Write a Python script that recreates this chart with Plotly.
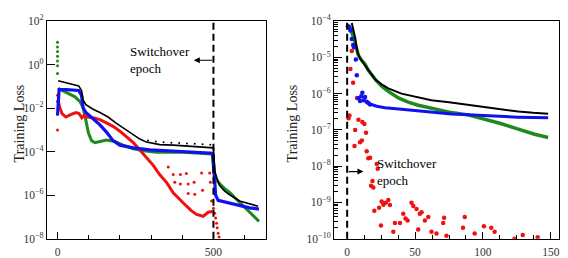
import plotly.graph_objects as go

# ---------------- Left panel (full training, epochs) ----------------
black_l_x = [2, 29, 68, 77, 82, 91, 114, 136, 162, 189, 216, 243, 264, 285, 307, 328, 371, 413, 456, 497,
             500, 503, 505, 512, 520, 536, 552, 584, 616, 643]
black_l_y = [1.8e-1, 1.45e-1, 1.05e-1, 6.5e-2, 2.4e-2, 1.45e-2, 8.9e-3, 6.3e-3, 3.9e-3, 2.0e-3, 1.1e-3, 6.3e-4,
             3.8e-4, 2.75e-4, 2.3e-4, 2.1e-4, 2.0e-4, 1.85e-4, 1.75e-4, 1.6e-4,
             1.5e-4, 3.0e-5, 1.2e-5, 5.4e-6, 2.8e-6, 1.55e-6, 1.05e-6, 5.4e-7, 3.9e-7, 3.1e-7]
black_l_spike_x = [290, 315, 340, 365, 390, 415, 440, 465, 490]
black_l_spike_y = [3.3e-4, 2.9e-4, 2.7e-4, 2.6e-4, 2.5e-4, 2.4e-4, 2.3e-4, 2.2e-4, 2.1e-4]

blue_l_x = [0, 1, 5, 29, 68, 77, 82, 91, 114, 136, 157, 178, 200, 243, 296, 350, 403, 456, 497,
            501, 504, 507, 515, 525, 552, 584, 616, 646]
blue_l_y = [4.6e-3, 1.0e-2, 7.1e-2, 7.1e-2, 6.5e-2, 3.9e-2, 1.05e-2, 6.3e-3, 3.3e-3, 1.7e-3, 7.9e-4, 3.2e-4,
            2.0e-4, 1.5e-4, 1.2e-4, 1.1e-4, 1.0e-4, 9.3e-5, 8.5e-5,
            2.0e-5, 3.3e-6, 1.0e-6, 5.8e-7, 5.4e-7, 4.2e-7, 3.3e-7, 2.6e-7, 2.3e-7]

green_l_start_x = [0, 0, 0, 0, 0, 0, 0]
green_l_start_y = [10.7, 6.5, 4.0, 2.4, 1.48, 0.89, 0.39]
green_l_x = [2, 29, 56, 72, 82, 91, 99, 109, 120, 136, 157, 184, 210, 243, 275, 317, 403, 497,
             501, 509, 520, 536, 552, 568, 584, 606, 627, 646]
green_l_y = [8.1e-2, 5.4e-2, 3.3e-2, 2.0e-2, 1.05e-2, 2.75e-3, 7.4e-4, 3.2e-4, 2.6e-4, 2.95e-4, 3.4e-4,
             2.95e-4, 2.0e-4, 1.35e-4, 1.1e-4, 9.5e-5, 9.3e-5, 7.9e-5,
             1.05e-5, 5.4e-6, 3.3e-6, 2.0e-6, 1.35e-6, 7.9e-7, 4.6e-7, 2.3e-7, 1.15e-7, 6.3e-8]

red_l_start_x = [0, 0, 0, 0]
red_l_start_y = [3.9e-2, 2.0e-2, 5.4e-3, 1.0e-3]
red_l_x = [3, 7, 15, 27, 42, 59, 69, 78, 85, 95, 114, 136, 157, 178, 200, 221, 243, 264, 285, 307, 328,
           350, 371, 392, 413, 429, 446, 467, 483, 497]
red_l_y = [2.0e-2, 1.05e-2, 5.4e-3, 3.9e-3, 5.0e-3, 6.3e-3, 5.7e-3, 3.6e-3, 4.6e-3, 3.9e-3, 3.6e-3,
           2.95e-3, 2.1e-3, 1.45e-3, 8.7e-4, 5.0e-4, 2.6e-4, 1.2e-4, 5.4e-5, 2.35e-5, 8.7e-6,
           3.8e-6, 1.3e-6, 6.2e-7, 3.2e-7, 1.95e-7, 1.3e-7, 1.07e-7, 1.65e-7, 1.8e-7]
red_l_scatter_x = [355, 371, 394, 413, 376, 394, 419, 438, 462, 465, 488, 490, 440, 419, 494,
                   500, 504, 507, 510, 512, 515, 518]
red_l_scatter_y = [2.0e-5, 8.9e-6, 8.9e-6, 9.8e-6, 3.9e-6, 3.3e-6, 3.3e-6, 3.9e-6, 1.05e-5, 1.7e-6,
                   1.05e-5, 3.9e-6, 1.1e-6, 1.2e-6, 5.4e-7,
                   2.5e-7, 1.5e-7, 9.0e-8, 5.2e-8, 3.2e-8, 1.8e-8, 1.2e-8]

# ---------------- Right panel (after switchover, epochs) ----------------
black_r_x = [3.4, 4.6, 5.9, 6.8, 7.8, 9.5, 12, 14.9, 17.6, 20.5, 25.4, 30.3, 40, 50, 62, 75, 88, 100,
             113, 126, 137, 148]
black_r_y = [8.9e-5, 5.8e-5, 3.5e-5, 2.1e-5, 1.3e-5, 9.3e-6, 6.8e-6, 4.8e-6, 3.5e-6, 2.5e-6, 1.8e-6,
             1.4e-6, 1.0e-6, 8.1e-7, 6.6e-7, 5.8e-7, 5.0e-7, 4.3e-7, 3.6e-7, 3.2e-7, 2.95e-7, 2.8e-7]

green_r_x = [1, 3.4, 5.4, 7.1, 8.3, 10.3, 13.2, 15.6, 18.6, 21.8, 25.4, 30.3, 37.7, 45, 52.3, 64.5, 76.8,
             89, 101, 113, 126, 138, 148]
green_r_y = [7.8e-5, 4.9e-5, 2.9e-5, 1.6e-5, 1.12e-5, 8.7e-6, 6.5e-6, 4.4e-6, 3.1e-6, 2.2e-6, 1.6e-6,
             1.15e-6, 7.6e-7, 5.8e-7, 4.8e-7, 3.9e-7, 3.0e-7, 2.6e-7, 2.0e-7, 1.5e-7, 1.05e-7, 7.6e-8, 6.2e-8]

blue_r_dots_x = [0.5, 1.5, 2.4, 3.4, 4.4, 5.1, 6.4, 7.1, 8.3, 9.5, 10.3, 11.2, 12.2, 13.2, 14.4, 15.6, 16.9]
blue_r_dots_y = [7.2e-5, 6.7e-5, 5.5e-5, 3.2e-5, 2.2e-5, 1.9e-5, 8.7e-6, 3.2e-6, 7.4e-7, 6.3e-7, 8.5e-7,
                 1.05e-6, 6.6e-7, 8.1e-7, 6.0e-7, 5.5e-7, 5.0e-7]
blue_r_x = [16.9, 18.1, 21.8, 27.9, 40, 52.3, 64.5, 76.8, 89, 101, 113, 126, 148]
blue_r_y = [5.0e-7, 5.0e-7, 4.5e-7, 4.1e-7, 3.7e-7, 3.3e-7, 3.0e-7, 2.75e-7, 2.6e-7, 2.45e-7, 2.35e-7,
            2.25e-7, 2.15e-7]

red_r_x = [1.0, 1.7, 2.4, 3.4, 4.4, 5.4, 5.9, 7.3, 8.3, 9.5, 10.8, 11.2, 12.7, 13.9, 14.4, 15.6, 16.9,
           21.8, 22.5, 18.6, 17.6, 19.3, 25.4, 26.7, 28.4, 30.3, 31.5, 20.0, 23.5, 24.9, 34.0, 35.2,
           38.9, 41.3, 43.0, 44.5, 47.4, 48.7, 51.1, 53.5, 54.8, 57.2, 59.7, 52.3, 62.1, 65.8, 71.4,
           70.7, 73.1, 86.6, 85.3, 93.9, 100.7, 106.1, 108.6, 123.2, 129.3, 140.3]
red_r_y = [2.1e-7, 2.5e-7, 4.8e-6, 1.5e-5, 2.0e-6, 3.6e-8, 1.0e-7, 7.6e-7, 1.9e-7, 4.6e-8, 5.1e-8,
           1.65e-7, 1.45e-7, 8.3e-8, 2.6e-8, 1.65e-8, 1.7e-8, 1.15e-8, 8.5e-9, 3.9e-9, 2.9e-9, 2.6e-9,
           1.07e-9, 8.7e-10, 9.8e-10, 1.17e-9, 8.5e-10, 5.9e-10, 7.2e-10, 2.3e-10, 1.55e-10, 2.7e-10,
           2.7e-10, 4.9e-10, 3.6e-10, 3.2e-10, 9.8e-10, 8.0e-10, 6.6e-10, 4.9e-10, 5.4e-10, 3.2e-10,
           4.0e-10, 1.8e-10, 1.55e-10, 1.4e-10, 3.8e-10, 2.7e-10, 1.2e-10, 4.0e-10, 2.0e-10, 1.4e-10,
           2.2e-10, 2.0e-10, 1.55e-10, 1.0e-10, 1.26e-10, 1.1e-10]

# ---------------- Tick labels ----------------
left_ytick_vals = [1e2, 1e0, 1e-2, 1e-4, 1e-6, 1e-8]
left_ytick_text = ["10<sup>2</sup>", "10<sup>0</sup>", "10<sup>\u22122</sup>", "10<sup>\u22124</sup>",
                   "10<sup>\u22126</sup>", "10<sup>\u22128</sup>"]
left_xtick_vals = [0, 500]
right_ytick_vals = [1e-4, 1e-5, 1e-6, 1e-7, 1e-8, 1e-9, 1e-10]
right_ytick_text = ["10<sup>\u22124</sup>", "10<sup>\u22125</sup>", "10<sup>\u22126</sup>", "10<sup>\u22127</sup>",
                    "10<sup>\u22128</sup>", "10<sup>\u22129</sup>", "10<sup>\u221210</sup>"]
right_xtick_vals = [0, 50, 100, 150]

BLACK = "#000000"
BLUE = "#1010f0"
GREEN = "#1e8a1e"
RED = "#f01010"
FONT = "Liberation Serif, Times New Roman, serif"

fig = go.Figure()

def add(x, y, color, ax, mode="lines", width=2.5, size=3):
    fig.add_trace(go.Scatter(
        x=x, y=y, mode=mode, xaxis=ax[0], yaxis=ax[1], showlegend=False, hoverinfo="skip",
        line=dict(color=color, width=width),
        marker=dict(color=color, size=size, line=dict(width=0)),
    ))

L = ("x", "y")
R = ("x2", "y2")

# left panel
add(green_l_start_x, green_l_start_y, GREEN, L, mode="markers", size=3)
add(red_l_start_x, red_l_start_y, RED, L, mode="markers", size=3)
add(green_l_x, green_l_y, GREEN, L, width=3)
add(red_l_x, red_l_y, RED, L, width=3)
add(red_l_scatter_x, red_l_scatter_y, RED, L, mode="markers", size=3)
add(blue_l_x, blue_l_y, BLUE, L, width=3.2)
add(black_l_x, black_l_y, BLACK, L, width=1.6)
add(black_l_spike_x, black_l_spike_y, BLACK, L, mode="markers", size=2)

# right panel
add(red_r_x, red_r_y, RED, R, mode="markers", size=4.5)
add(green_r_x, green_r_y, GREEN, R, width=3.5)
add(blue_r_dots_x, blue_r_dots_y, BLUE, R, mode="markers", size=4.5)
add(blue_r_x, blue_r_y, BLUE, R, width=3)
add(black_r_x, black_r_y, BLACK, R, width=2)

W, H = 568, 258
def px(xp):
    return xp / W
def py(yp):
    return 1 - yp / H

ydom = [py(247), py(14)]
common_axis = dict(showline=True, linecolor="black", linewidth=1.2, mirror=True, showgrid=False,
                   zeroline=False, ticks="inside", tickcolor="black",
                   tickfont=dict(family=FONT, size=11.5, color="#333333"))

minor_right_y = [m * 10.0 ** e for e in range(-10, -4) for m in range(2, 10)]

fig.update_layout(
    width=W, height=H, margin=dict(l=0, r=0, t=0, b=0),
    plot_bgcolor="white", paper_bgcolor="white",
    font=dict(family=FONT, size=11, color="black"),
    xaxis=dict(domain=[px(47), px(266)], range=[-34, 667], tickmode="array", tickvals=left_xtick_vals,
               ticklen=7, ticklabelstandoff=2,
               minor=dict(tickmode="array", tickvals=[100, 200, 300, 400, 600], ticks="inside",
                          ticklen=4, tickcolor="black"),
               anchor="y", **common_axis),
    yaxis=dict(domain=ydom, type="log", range=[-8, 2], tickmode="array", tickvals=left_ytick_vals,
               ticktext=left_ytick_text, ticklen=8, anchor="x", **common_axis),
    xaxis2=dict(domain=[px(334.7), px(560)], range=[-9.6, 156], tickmode="array", tickvals=right_xtick_vals,
                ticklen=7, ticklabelstandoff=2,
                minor=dict(tickmode="array", tickvals=[12.5, 25, 37.5, 62.5, 75, 87.5, 112.5, 125, 137.5],
                           ticks="inside", ticklen=4, tickcolor="black"),
                anchor="y2", **common_axis),
    yaxis2=dict(domain=ydom, type="log", range=[-10, -4], tickmode="array", tickvals=right_ytick_vals,
                ticktext=right_ytick_text, ticklen=8,
                minor=dict(tickmode="array", tickvals=minor_right_y, ticks="inside", ticklen=4,
                           tickcolor="black"),
                anchor="x2", **common_axis),
    shapes=[
        dict(type="line", xref="x", yref="y domain", x0=500, x1=500, y0=0, y1=1,
             line=dict(color="black", width=2, dash="7px,4px")),
        dict(type="line", xref="x2", yref="y2 domain", x0=0, x1=0, y0=0, y1=1,
             line=dict(color="black", width=2, dash="7px,4px")),
    ],
    annotations=[
        dict(text="Training Loss", textangle=-90, xref="paper", yref="paper", x=px(10), y=py(123),
             showarrow=False, font=dict(family=FONT, size=14, color="#222222")),
        dict(text="Training Loss", textangle=-90, xref="paper", yref="paper", x=px(293), y=py(123),
             showarrow=False, font=dict(family=FONT, size=14, color="#222222")),
        dict(text="Switchover<br>epoch", xref="paper", yref="paper", x=px(128), y=py(55.5),
             xanchor="left", yanchor="middle", align="left", showarrow=False,
             font=dict(family=FONT, size=13, color="black")),
        dict(text="Switchover<br>epoch", xref="paper", yref="paper", x=px(376), y=py(175.5),
             xanchor="left", yanchor="middle", align="left", showarrow=False,
             font=dict(family=FONT, size=13, color="black")),
        dict(text="", x=437, y=0.2, xref="x", yref="y", ax=500, ay=0.2, axref="x", ayref="y",
             showarrow=True, arrowhead=2, arrowsize=1, arrowwidth=1.2, arrowcolor="black"),
        dict(text="", x=12, y=-8.15, xref="x2", yref="y2", ax=0, ay=-8.15, axref="x2", ayref="y2",
             showarrow=True, arrowhead=2, arrowsize=1, arrowwidth=1.2, arrowcolor="black"),
    ],
)

fig.write_html("out.html", config={"displayModeBar": False},
               post_script="document.body.style.margin='0';")
